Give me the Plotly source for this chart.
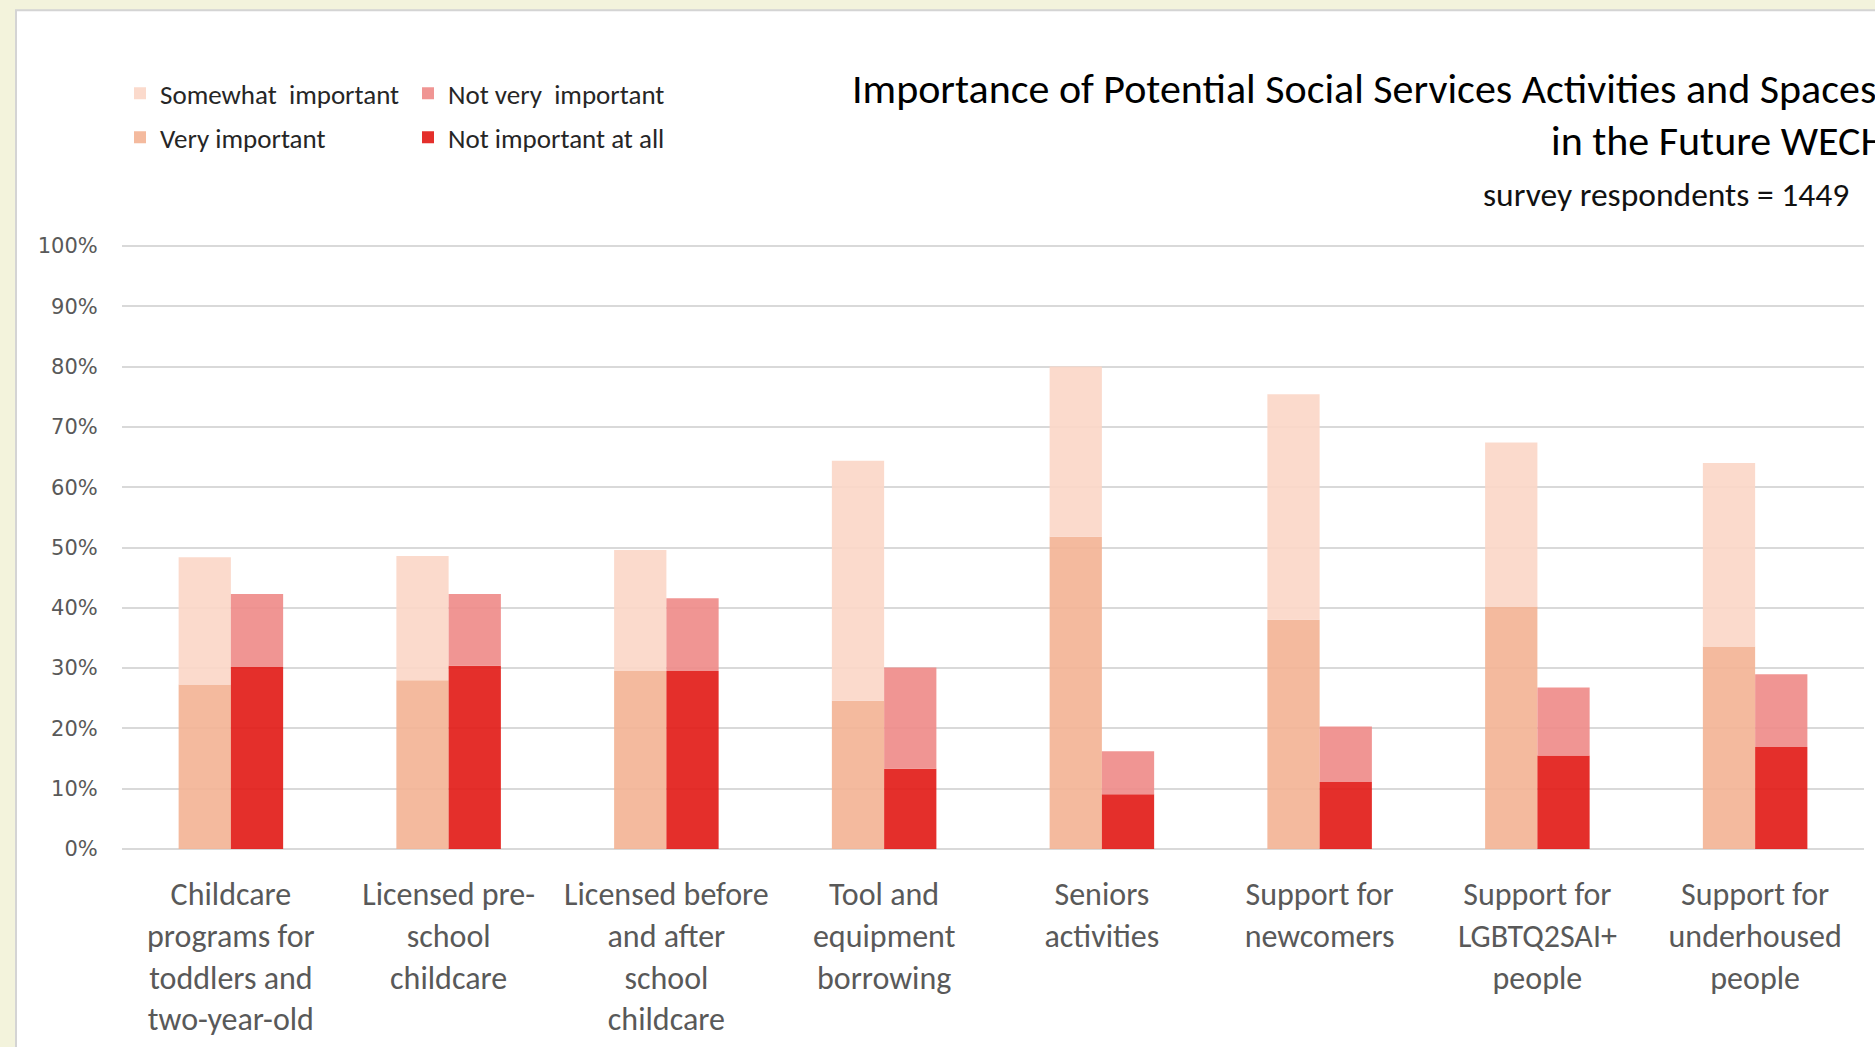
import plotly.graph_objects as go

# ---------------- data (percent) ----------------
categories = [
    "Childcare<br>programs for<br>toddlers and<br>two-year-old",
    "Licensed pre-<br>school<br>childcare",
    "Licensed before<br>and after<br>school<br>childcare",
    "Tool and<br>equipment<br>borrowing",
    "Seniors<br>activities",
    "Support for<br>newcomers",
    "Support for<br>LGBTQ2SAI+<br>people",
    "Support for<br>underhoused<br>people",
]
very_important = [27.3, 28.0, 29.5, 24.6, 51.8, 38.0, 40.2, 33.6]
somewhat_important = [21.1, 20.6, 20.1, 39.8, 28.2, 37.4, 27.2, 30.4]
not_important_at_all = [30.2, 30.4, 29.5, 13.3, 9.1, 11.1, 15.5, 16.9]
not_very_important = [12.1, 11.9, 12.1, 16.8, 7.1, 9.2, 11.3, 12.1]
y_ticks = [0, 10, 20, 30, 40, 50, 60, 70, 80, 90, 100]

FONT = "Carlito, Lato, sans-serif"
W, H = 1875, 1047
Y_MAX = 100.5
ZERO_PX, FULL_PX = 849.5, 246.0          # pixel rows of 0% and 100%
PH = (ZERO_PX - FULL_PX) * Y_MAX / 100
L, R = 122, 11
T = ZERO_PX - PH
B = H - ZERO_PX
PW = W - L - R


def px_x(x):
    return (x - L) / PW


def px_y(y):
    return (ZERO_PX - y) / PH


fig = go.Figure()

# left column of each pair: very important + somewhat important stacked
fig.add_trace(go.Bar(
    x=categories, y=very_important, name="Very important",
    offsetgroup="imp", marker_color="rgba(243,179,148,0.9)",
    legend="legend", legendgroup="v", legendrank=2,
))
fig.add_trace(go.Bar(
    x=categories, y=somewhat_important, base=very_important,
    name="Somewhat  important", offsetgroup="imp",
    marker_color="rgba(251,214,198,0.9)",
    legend="legend", legendgroup="s", legendrank=1,
))
# right column: not important at all + not very important stacked
fig.add_trace(go.Bar(
    x=categories, y=not_important_at_all, name="Not important at all",
    offsetgroup="not", marker_color="rgba(225,24,20,0.9)",
    legend="legend2", legendgroup="na", legendrank=2,
))
fig.add_trace(go.Bar(
    x=categories, y=not_very_important, base=not_important_at_all,
    name="Not very  important", offsetgroup="not",
    marker_color="rgba(238,137,135,0.9)",
    legend="legend2", legendgroup="nv", legendrank=1,
))

fig.update_traces(marker_line_width=0, hoverinfo="skip")

legend_style = dict(
    orientation="v", yanchor="top", xanchor="left",
    font=dict(family=FONT, size=27, color="#262626"),
    tracegroupgap=6, bgcolor="rgba(0,0,0,0)", itemwidth=30,
)

fig.update_layout(
    width=W, height=H,
    margin=dict(l=L, r=R, t=T, b=B, pad=0, autoexpand=False),
    paper_bgcolor="#F3F3DC",
    plot_bgcolor="rgba(0,0,0,0)",
    barmode="group", bargap=0.52, bargroupgap=0,
    showlegend=True,
    legend=dict(x=px_x(120), y=px_y(69), **legend_style),
    legend2=dict(x=px_x(408), y=px_y(69), **legend_style),
    font=dict(family=FONT, color="#595959"),
    shapes=[dict(
        type="rect", xref="paper", yref="paper", layer="below",
        x0=px_x(16), x1=px_x(W + 20), y0=px_y(H + 20), y1=px_y(10),
        fillcolor="white", line=dict(color="#D4D4D4", width=2),
    )],
    annotations=[
        dict(text="Importance of Potential Social Services Activities and Spaces",
             xref="paper", yref="paper", x=px_x(850), y=px_y(88),
             xanchor="left", yanchor="middle", showarrow=False,
             font=dict(family=FONT, size=42, color="#000000")),
        dict(text="in the Future WECH",
             xref="paper", yref="paper", x=px_x(1549), y=px_y(140),
             xanchor="left", yanchor="middle", showarrow=False,
             font=dict(family=FONT, size=42, color="#000000")),
        dict(text="survey respondents = 1449",
             xref="paper", yref="paper", x=px_x(1481), y=px_y(194),
             xanchor="left", yanchor="middle", showarrow=False,
             font=dict(family=FONT, size=33.5, color="#111111")),
    ],
)

fig.update_xaxes(
    showgrid=False, showline=False, zeroline=False, automargin=False,
    tickfont=dict(family=FONT, size=32, color="#595959"),
    ticks="outside", ticklen=17, tickcolor="rgba(0,0,0,0)",
    tickangle=0, fixedrange=True,
)
fig.update_yaxes(
    range=[0, Y_MAX], tickvals=y_ticks, automargin=False,
    ticktext=[f"{v}%" for v in y_ticks],
    showgrid=True, gridcolor="#D9D9D9", gridwidth=2,
    zeroline=True, zerolinecolor="#D9D9D9", zerolinewidth=2,
    showline=False,
    tickfont=dict(family="DejaVu Sans", size=21, color="#595959"),
    ticks="outside", ticklen=19, tickcolor="rgba(0,0,0,0)",
    fixedrange=True,
)

fig.write_html("out.html", config={"displayModeBar": False},
               post_script="document.body.style.margin='0';")
